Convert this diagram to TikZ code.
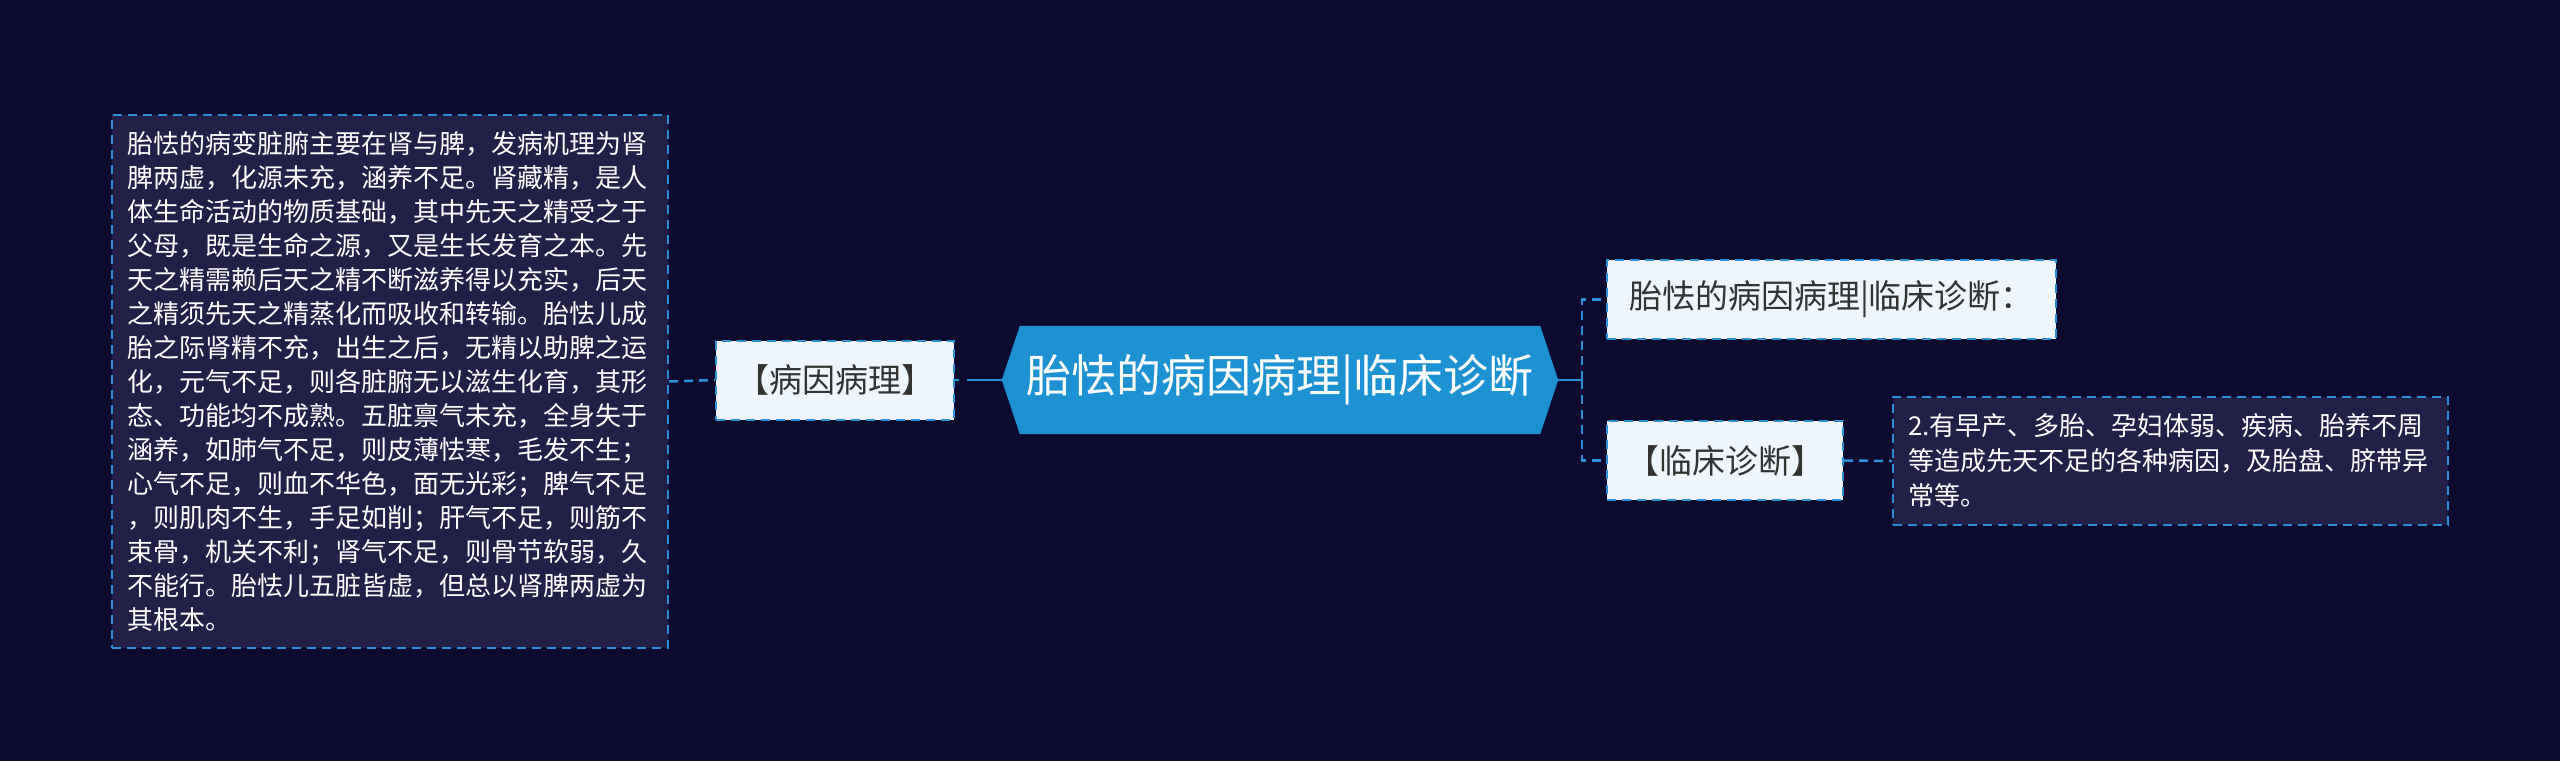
\documentclass[tikz,border=0pt]{standalone}
\usepackage{fontspec}
\setmainfont{Noto Sans CJK SC}
\usetikzlibrary{backgrounds,calc}
\definecolor{bgc}{HTML}{0D0A2F}
\definecolor{darkfill}{HTML}{232048}
\definecolor{lightfill}{HTML}{EFF5FD}
\definecolor{hexblue}{HTML}{1D92D2}
\definecolor{linec}{HTML}{2D8FD5}
\definecolor{darktext}{HTML}{333333}
\begin{document}
\begin{tikzpicture}[x=1pt,y=-1pt,
  conn/.style={draw=linec,line width=2.5pt},
  connd/.style={conn,dash pattern=on 9pt off 6pt},
  lightbox/.style={draw=linec,line width=2pt,dash pattern=on 9pt off 6pt,fill=lightfill,
    text=darktext,font=\fontsize{33}{40}\selectfont,inner sep=0pt,minimum height=79pt},
  darkbox/.style={draw=linec,line width=2pt,dash pattern=on 9pt off 6pt,fill=darkfill,
    text=white,font=\fontsize{26}{34}\selectfont,align=left,inner xsep=15pt,inner ysep=0pt},
  hextext/.style={text=white,font=\fontsize{45}{50}\selectfont,inner sep=0pt,
    minimum width=520pt,minimum height=108pt}]
\begin{scope}[on background layer]
\fill[bgc] (0,0) rectangle (2560,761);
\end{scope}
\useasboundingbox (0,0) rectangle (2560,761);

% left detail box
\node[darkbox,text width=526pt,minimum height=533pt] (L) at (390,381.5) {胎怯的病变脏腑主要在肾与脾，发病机理为肾\\
脾两虚，化源未充，涵养不足。肾藏精，是人\\
体生命活动的物质基础，其中先天之精受之于\\
父母，既是生命之源，又是生长发育之本。先\\
天之精需赖后天之精不断滋养得以充实，后天\\
之精须先天之精蒸化而吸收和转输。胎怯儿成\\
胎之际肾精不充，出生之后，无精以助脾之运\\
化，元气不足，则各脏腑无以滋生化育，其形\\
态、功能均不成熟。五脏禀气未充，全身失于\\
涵养，如肺气不足，则皮薄怯寒，毛发不生；\\
心气不足，则血不华色，面无光彩；脾气不足\\
，则肌肉不生，手足如削；肝气不足，则筋不\\
束骨，机关不利；肾气不足，则骨节软弱，久\\
不能行。胎怯儿五脏皆虚，但总以肾脾两虚为\\
其根本。};

% left label
\node[lightbox,minimum width=238pt] (B1) at (835,380) {【病因病理】};

% central hexagon
\node[hextext] (C) at (1280,380) {胎怯的病因病理|临床诊断};
\coordinate (Cl) at ($(C.west)+(-18,0)$);
\coordinate (Cr) at ($(C.east)+(18,0)$);
\begin{scope}[on background layer]
\fill[hexblue] (Cl) -- (C.north west) -- (C.north east) -- (Cr) -- (C.south east) -- (C.south west) -- cycle;
\end{scope}

% right nodes
\node[lightbox,minimum width=449pt] (T) at (1831.5,299.5) {胎怯的病因病理|临床诊断：};
\node[lightbox,minimum width=236pt] (D) at (1725,460.5) {【临床诊断】};
\node[darkbox,text width=525pt,minimum height=128pt,font=\fontsize{26}{35}\selectfont] (R) at (2170.5,461) {2.有早产、多胎、孕妇体弱、疾病、胎养不周\\
等造成先天不足的各种病因，及胎盘、脐带异\\
常等。};

\coordinate (J) at (1582,380);

% connectors
\draw[connd] (L.east) -- (B1.west);
\draw[conn,dash pattern=on 4pt off 8pt on 60pt off 0pt] (B1.east) -- (Cl);
\draw[conn] (Cr) -- (J);
\draw[connd] (J) |- (T.west);
\draw[connd] (J) |- (D.west);
\draw[connd] (D.east) -- (R.west);
\end{tikzpicture}
\end{document}
